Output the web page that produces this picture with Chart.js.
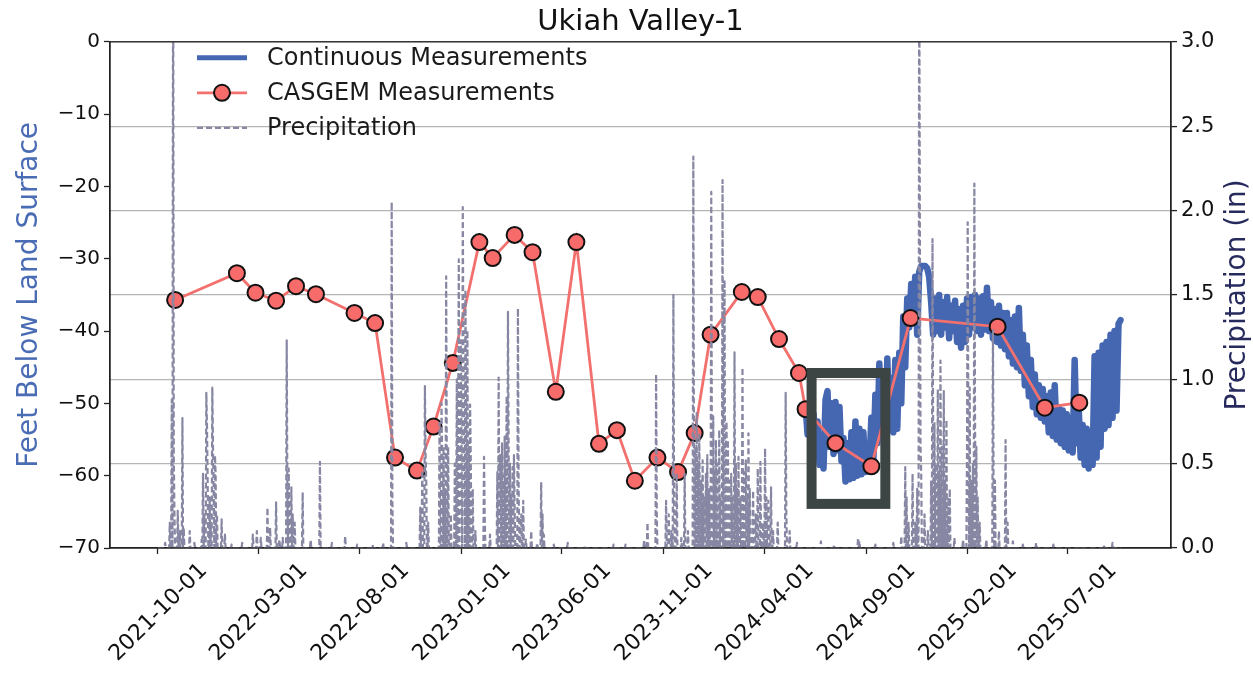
<!DOCTYPE html>
<html>
<head>
<meta charset="utf-8">
<script src="https://cdn.jsdelivr.net/npm/chart.js@4.4.1/dist/chart.umd.min.js"></script>
<style>
  html, body { margin: 0; padding: 0; background: #fff; }
</style>
</head>
<body>
<canvas id="wellChart" width="1253" height="673"></canvas>
<script>
var xTickDates = ['2021-10-01','2022-03-01','2022-08-01','2023-01-01','2023-06-01',
                  '2023-11-01','2024-04-01','2024-09-01','2025-02-01','2025-07-01'];

// CASGEM manual measurements (feet below land surface, negative down)
var casgemDates = ['2021-10-27','2022-01-28','2022-02-25','2022-03-28','2022-04-27','2022-05-27',
                   '2022-07-24','2022-08-24','2022-09-23','2022-10-26','2022-11-20','2022-12-19',
                   '2023-01-28','2023-02-17','2023-03-22','2023-04-18','2023-05-23','2023-06-23',
                   '2023-07-27','2023-08-23','2023-09-19','2023-10-23','2023-11-23','2023-12-18',
                   '2024-01-11','2024-02-27','2024-03-22','2024-04-23','2024-05-23','2024-06-02',
                   '2024-07-17','2024-09-09','2024-11-07','2025-03-18','2025-05-28','2025-07-19'];
var casgemDepth = [-35.7,-32.0,-34.7,-35.8,-33.8,-34.9,
                   -37.5,-38.9,-57.5,-59.3,-53.2,-44.4,
                   -27.7,-29.9,-26.7,-29.1,-48.4,-27.7,
                   -55.6,-53.7,-60.7,-57.5,-59.5,-54.1,
                   -40.5,-34.6,-35.3,-41.1,-45.8,-50.8,
                   -55.5,-58.7,-38.2,-39.4,-50.6,-49.9];

// continuous transducer record, one reading every 3 days
var contStart = '2024-06-02';
var contStepDays = 3;
var contDepth = [
  -50.5,-54.3,-51.0,-56.5,-51.5,-57.0,-52.5,-58.5,-55.0,-59.0,
  -49.5,-48.3,-56.0,-50.0,-57.0,-49.8,-56.5,-50.5,-58.0,-54.8,
  -60.8,-55.5,-60.5,-54.0,-60.3,-52.5,-60.0,-53.5,-59.8,-54.0,
  -59.5,-56.0,-58.5,-52.0,-58.0,-48.8,-55.5,-44.5,-54.0,-46.0,
  -54.3,-43.8,-53.5,-46.5,-54.0,-44.0,-53.5,-43.0,-50.0,-38.0,
  -45.0,-35.5,-39.5,-33.5,-38.5,-32.5,-40.5,-31.8,-31.0,-31.0,
  -31.0,-31.3,-32.5,-36.0,-40.5,-35.5,-40.0,-35.0,-40.5,-36.0,
  -39.5,-35.3,-41.0,-36.5,-40.0,-35.8,-41.5,-37.0,-42.3,-36.5,
  -41.5,-35.5,-40.5,-35.3,-39.5,-35.0,-40.0,-35.5,-40.5,-35.2,
  -39.8,-34.0,-40.0,-36.0,-41.0,-37.0,-41.5,-36.5,-42.0,-37.5,
  -42.5,-37.5,-43.5,-38.5,-44.5,-38.0,-45.0,-36.8,-45.5,-40.5,
  -47.5,-42.0,-49.0,-44.0,-50.5,-46.0,-51.5,-47.5,-52.0,-48.0,
  -52.5,-49.0,-54.0,-48.5,-54.5,-47.5,-55.0,-50.5,-55.5,-51.0,
  -56.0,-51.5,-56.5,-52.0,-56.8,-44.0,-55.5,-50.5,-57.5,-53.0,
  -58.5,-53.5,-59.0,-54.0,-58.5,-43.5,-57.5,-43.0,-56.0,-42.0,
  -53.5,-41.5,-53.0,-40.5,-52.0,-40.0,-51.0,-39.0,-38.5
];

// daily precipitation (inches); days not listed had no rain
var precipFrom = '2021-10-01';
var precipTo = '2025-09-20';
var rainDates = [
  '2021-10-12','2021-10-19','2021-10-22','2021-10-24','2021-10-25','2021-10-26','2021-10-31','2021-11-03',
  '2021-11-07','2021-11-09','2021-11-18','2021-11-25','2021-12-06','2021-12-08','2021-12-10','2021-12-13',
  '2021-12-14','2021-12-15','2021-12-18','2021-12-20','2021-12-22','2021-12-23','2021-12-24','2021-12-26',
  '2021-12-27','2021-12-29','2022-01-05','2022-01-10','2022-01-20','2022-02-05','2022-02-21','2022-02-27',
  '2022-03-05','2022-03-15','2022-03-19','2022-03-28','2022-04-02','2022-04-07','2022-04-13','2022-04-14',
  '2022-04-16','2022-04-20','2022-04-22','2022-04-25','2022-05-07','2022-05-19','2022-06-02','2022-06-20',
  '2022-07-10','2022-07-28','2022-08-20','2022-09-05','2022-09-18','2022-09-19','2022-10-10','2022-10-31',
  '2022-11-03','2022-11-07','2022-11-08','2022-11-09','2022-11-12','2022-11-29','2022-12-02','2022-12-03',
  '2022-12-05','2022-12-07','2022-12-09','2022-12-10','2022-12-12','2022-12-16','2022-12-22','2022-12-25',
  '2022-12-27','2022-12-28','2022-12-30','2022-12-31','2023-01-01','2023-01-03','2023-01-04','2023-01-05',
  '2023-01-07','2023-01-08','2023-01-10','2023-01-12','2023-01-14','2023-01-15','2023-01-18','2023-01-22',
  '2023-02-04','2023-02-05','2023-02-13','2023-02-24','2023-02-26','2023-02-28','2023-03-01','2023-03-03',
  '2023-03-05','2023-03-07','2023-03-10','2023-03-12','2023-03-13','2023-03-15','2023-03-17','2023-03-19',
  '2023-03-21','2023-03-22','2023-03-27','2023-03-28','2023-03-31','2023-04-01','2023-04-04','2023-04-08',
  '2023-04-16','2023-04-25','2023-05-01','2023-05-03','2023-05-05','2023-05-20','2023-06-10','2023-07-05',
  '2023-08-18','2023-09-05','2023-10-03','2023-10-08','2023-10-21','2023-10-22','2023-11-05','2023-11-09',
  '2023-11-13','2023-11-16','2023-11-17','2023-11-21','2023-11-28','2023-12-03','2023-12-08','2023-12-16',
  '2023-12-17','2023-12-19','2023-12-21','2023-12-23','2023-12-25','2023-12-28','2023-12-30','2024-01-01',
  '2024-01-04','2024-01-06','2024-01-09','2024-01-12','2024-01-13','2024-01-15','2024-01-17','2024-01-19',
  '2024-01-21','2024-01-24','2024-01-26','2024-01-29','2024-01-31','2024-02-01','2024-02-03','2024-02-04',
  '2024-02-06','2024-02-08','2024-02-11','2024-02-13','2024-02-16','2024-02-18','2024-02-20','2024-02-22',
  '2024-02-25','2024-02-28','2024-03-01','2024-03-04','2024-03-06','2024-03-08','2024-03-10','2024-03-15',
  '2024-03-19','2024-03-22','2024-03-26','2024-03-30','2024-04-02','2024-04-04','2024-04-07','2024-04-11',
  '2024-04-14','2024-04-21','2024-05-03','2024-05-04','2024-05-09','2024-05-20','2024-06-25','2024-07-15',
  '2024-08-20','2024-08-22','2024-09-15','2024-10-12','2024-10-24','2024-10-30','2024-11-01','2024-11-04',
  '2024-11-10','2024-11-14','2024-11-17','2024-11-20','2024-11-21','2024-11-22','2024-11-23','2024-11-28',
  '2024-12-03','2024-12-08','2024-12-10','2024-12-11','2024-12-13','2024-12-15','2024-12-18','2024-12-20',
  '2024-12-22','2024-12-24','2024-12-27','2024-12-29','2024-12-31','2025-01-03','2025-01-05','2025-01-12',
  '2025-01-25','2025-01-31','2025-02-01','2025-02-02','2025-02-04','2025-02-06','2025-02-09','2025-02-11',
  '2025-02-12','2025-02-14','2025-02-16','2025-02-19','2025-03-01','2025-03-11','2025-03-12','2025-03-14',
  '2025-03-20','2025-03-30','2025-04-02','2025-04-10','2025-04-25','2025-05-15','2025-06-10','2025-07-20',
  '2025-08-25','2025-09-07'
];
var rainInches = [
  0.03,0.15,0.88,3.9,0.55,0.2,0.22,0.1,
  0.77,0.12,0.1,0.03,0.05,0.44,0.2,0.92,
  0.72,0.4,0.3,0.15,0.95,0.6,0.35,0.55,
  0.44,0.2,0.17,0.08,0.02,0.03,0.08,0.1,
  0.06,0.24,0.12,0.27,0.05,0.06,1.23,0.3,
  0.47,0.36,0.2,0.15,0.33,0.05,0.51,0.03,
  0.07,0.02,0.02,0.03,2.05,0.3,0.03,0.24,
  0.46,0.96,0.55,0.4,0.15,0.74,0.86,0.5,
  0.6,0.35,1.61,0.45,0.6,0.2,0.5,1.0,
  0.75,1.71,0.9,1.23,0.6,2.02,1.1,0.8,
  1.53,0.7,1.29,0.6,0.85,0.55,0.35,0.1,
  0.54,0.2,0.08,0.45,1.01,0.55,0.35,0.62,
  0.4,0.66,0.9,1.4,0.6,0.5,0.3,0.48,
  0.55,0.25,1.42,0.4,0.15,0.2,0.28,0.05,
  0.1,0.03,0.39,0.2,0.08,0.02,0.03,0.01,
  0.02,0.02,0.05,0.15,1.03,0.2,0.28,0.2,
  0.1,1.5,0.3,0.44,0.06,0.44,0.1,2.32,
  0.5,0.6,0.8,0.5,0.68,0.4,0.52,0.3,
  0.44,0.55,0.35,2.11,0.5,0.78,0.45,0.64,
  0.5,0.7,0.3,2.18,0.9,1.59,0.6,0.75,
  0.64,0.4,0.44,0.3,1.16,0.5,0.35,0.54,
  0.3,1.07,0.45,0.52,0.3,0.68,0.35,0.34,
  0.2,0.47,0.51,0.15,0.59,0.3,0.28,0.36,
  0.1,0.15,0.92,0.2,0.1,0.03,0.04,0.02,
  0.06,0.04,0.02,0.03,0.07,0.48,0.3,0.15,
  0.44,0.15,0.35,3.6,1.9,0.6,0.45,0.2,
  0.1,0.4,1.83,0.6,0.74,0.5,0.94,0.45,
  1.11,0.6,0.93,0.4,0.76,0.3,0.35,0.06,
  0.05,0.6,1.93,0.7,0.95,0.4,0.5,2.16,
  0.8,0.6,0.3,0.15,0.05,1.29,0.3,0.4,
  0.1,0.64,0.15,0.04,0.02,0.03,0.02,0.01,
  0.02,0.03
];

// highlighted window on the continuous record
var boxFrom = '2024-06-11', boxTo = '2024-09-30', boxTop = -45.8, boxBottom = -63.9;

// ---- helpers ----
function dayNum(s) {
	var p = s.split('-');
	return Date.UTC(+p[0], +p[1] - 1, +p[2]) / 86400000;
}

var casgemPts = casgemDates.map(function(d, i){ return {x: dayNum(d), y: casgemDepth[i]}; });

var contPts = [];
for (var i = 0; i < contDepth.length; i++) {
	contPts.push({x: dayNum(contStart) + i * contStepDays, y: contDepth[i]});
}

var rainByDay = {};
for (var j = 0; j < rainDates.length; j++) rainByDay[dayNum(rainDates[j])] = rainInches[j];
var precipPts = [];
for (var d = dayNum(precipFrom); d <= dayNum(precipTo); d++) {
	precipPts.push({x: d, y: rainByDay[d] || 0});
}

Chart.defaults.font.family = "'DejaVu Sans', sans-serif";
Chart.defaults.color = '#111';

var BLUE = '#4567b1', RED = '#f2706e', RED_FILL = '#f86b6b', GRAY = '#8787a3', INK = '#222';

var frameAndBox = {
	id: 'frameAndBox',
	afterDatasetsDraw: function(chart) {
		var ctx = chart.ctx, a = chart.chartArea, sx = chart.scales.x, sy = chart.scales.yDepth;
		ctx.save();
		ctx.strokeStyle = INK;
		ctx.lineWidth = 1.3;
		ctx.strokeRect(a.left, a.top, a.right - a.left, a.bottom - a.top);

		var x1 = sx.getPixelForValue(dayNum(boxFrom)), x2 = sx.getPixelForValue(dayNum(boxTo));
		var y1 = sy.getPixelForValue(boxTop), y2 = sy.getPixelForValue(boxBottom);
		ctx.strokeStyle = '#3c4444';
		ctx.lineWidth = 10;
		ctx.lineJoin = 'miter';
		ctx.strokeRect(x1, y1, x2 - x1, y2 - y1);
		ctx.restore();
	},
	afterDraw: function(chart) {
		var ctx = chart.ctx, a = chart.chartArea;
		ctx.save();
		// right axis label, reading bottom to top
		ctx.translate(1238, (a.top + a.bottom) / 2);
		ctx.rotate(-Math.PI / 2);
		ctx.fillStyle = '#272a5c';
		ctx.font = "28px 'DejaVu Sans'";
		ctx.textAlign = 'center';
		ctx.textBaseline = 'middle';
		ctx.fillText('Precipitation (in)', 0, 0);
		ctx.restore();

		// legend
		var lx = a.left + 87, tx = a.left + 157, rows = [a.top + 16, a.top + 51, a.top + 86];
		var sets = chart.data.datasets;
		ctx.save();
		ctx.lineCap = 'butt';
		ctx.strokeStyle = BLUE; ctx.lineWidth = 5;
		ctx.beginPath(); ctx.moveTo(lx, rows[0]); ctx.lineTo(lx + 50, rows[0]); ctx.stroke();

		ctx.strokeStyle = RED; ctx.lineWidth = 2.8;
		ctx.beginPath(); ctx.moveTo(lx, rows[1]); ctx.lineTo(lx + 50, rows[1]); ctx.stroke();
		ctx.beginPath(); ctx.arc(lx + 25, rows[1], 8, 0, Math.PI * 2);
		ctx.fillStyle = RED_FILL; ctx.fill();
		ctx.strokeStyle = '#111'; ctx.lineWidth = 2; ctx.stroke();

		ctx.strokeStyle = GRAY; ctx.lineWidth = 2.2; ctx.setLineDash([6, 3]);
		ctx.beginPath(); ctx.moveTo(lx, rows[2]); ctx.lineTo(lx + 50, rows[2]); ctx.stroke();
		ctx.setLineDash([]);

		ctx.fillStyle = '#1a1a1a';
		ctx.font = "24px 'DejaVu Sans'";
		ctx.textAlign = 'left';
		ctx.textBaseline = 'middle';
		ctx.fillText(sets[0].label, tx, rows[0] + 1);
		ctx.fillText(sets[1].label, tx, rows[1] + 1);
		ctx.fillText(sets[2].label, tx, rows[2] + 1);
		ctx.restore();
	}
};

var axisLine = { color: INK, width: 1.3 };

new Chart(document.getElementById('wellChart'), {
	type: 'line',
	data: {
		datasets: [{
			label: 'Continuous Measurements',
			data: contPts,
			yAxisID: 'yDepth',
			borderColor: BLUE,
			borderWidth: 6.5,
			borderJoinStyle: 'round',
			borderCapStyle: 'round',
			pointRadius: 0,
			order: 3
		}, {
			label: 'CASGEM Measurements',
			data: casgemPts,
			yAxisID: 'yDepth',
			borderColor: RED,
			borderWidth: 2.8,
			pointRadius: 8,
			pointBackgroundColor: RED_FILL,
			pointBorderColor: '#111',
			pointBorderWidth: 2,
			order: 2
		}, {
			label: 'Precipitation',
			data: precipPts,
			yAxisID: 'yPrecip',
			borderColor: GRAY,
			borderWidth: 2.2,
			borderDash: [6, 3],
			borderJoinStyle: 'round',
			pointRadius: 0,
			order: 1
		}]
	},
	options: {
		responsive: false,
		animation: false,
		devicePixelRatio: 1,
		events: [],
		layout: { padding: 0 },
		plugins: {
			legend: { display: false },
			tooltip: { enabled: false },
			title: {
				display: true,
				text: 'Ukiah Valley-1',
				fullSize: false,
				color: '#111',
				font: { size: 29, weight: 'normal' },
				padding: { top: 5, bottom: 2 }
			}
		},
		scales: {
			x: {
				type: 'linear',
				min: dayNum('2021-07-21'),
				max: dayNum('2025-12-04'),
				afterBuildTicks: function(s) {
					s.ticks = xTickDates.map(function(t){ return {value: dayNum(t)}; });
				},
				afterFit: function(s) { s.height = 125; },
				ticks: {
					autoSkip: false,
					minRotation: 45,
					maxRotation: 45,
					labelOffset: 46,
					padding: 4,
					font: { size: 22 },
					callback: function(v, idx) { return xTickDates[idx]; }
				},
				grid: { drawOnChartArea: false, tickLength: 6, tickColor: INK, tickWidth: 1.3 },
				border: axisLine
			},
			yDepth: {
				position: 'left',
				min: -70,
				max: 0,
				afterFit: function(s) { s.width = 110; },
				ticks: {
					stepSize: 10,
					padding: 4,
					font: { size: 20 },
					callback: function(v) { return v < 0 ? '\u2212' + Math.abs(v) : String(v); }
				},
				grid: { drawOnChartArea: false, tickLength: 6, tickColor: INK, tickWidth: 1.3 },
				border: axisLine,
				title: {
					display: true,
					text: 'Feet Below Land Surface',
					color: '#4a6cb4',
					font: { size: 28 },
					padding: { top: 13, bottom: 0 }
				}
			},
			yPrecip: {
				position: 'right',
				min: 0,
				max: 3,
				afterFit: function(s) { s.width = 82; },
				ticks: {
					stepSize: 0.5,
					padding: 4,
					font: { size: 21 },
					callback: function(v) { return v.toFixed(1); }
				},
				grid: { drawOnChartArea: true, color: '#b5b5b5', lineWidth: 1.2, tickLength: 6, tickColor: INK, tickWidth: 1.3 },
				border: axisLine
			}
		}
	},
	plugins: [frameAndBox]
});
</script>
</body>
</html>
